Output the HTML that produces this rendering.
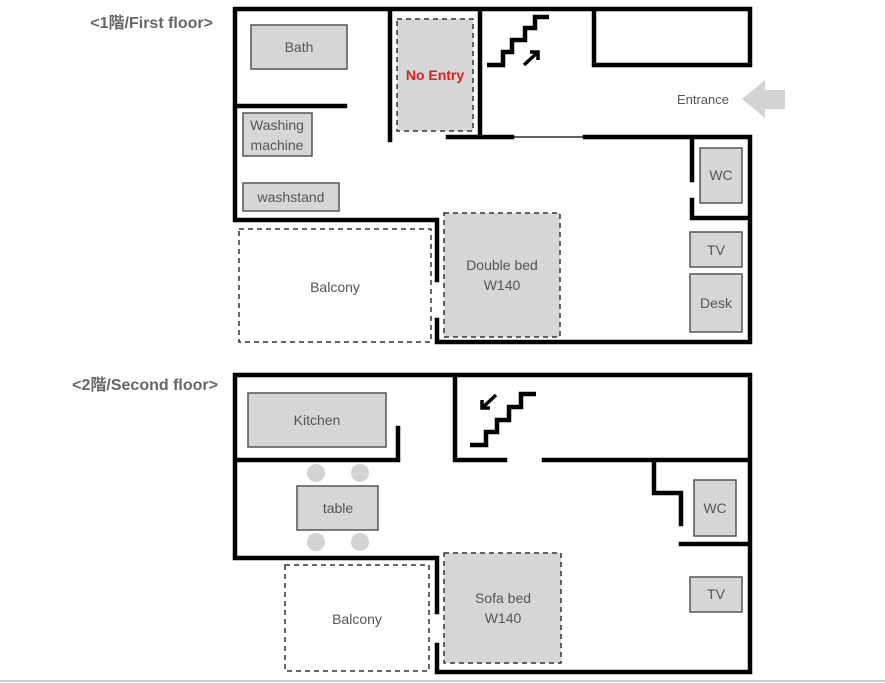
<!DOCTYPE html>
<html><head><meta charset="utf-8"><style>
html,body{margin:0;padding:0;background:#fff;width:885px;height:683px;overflow:hidden}
svg{display:block}
text{font-family:"Liberation Sans","Noto Sans CJK JP",sans-serif;fill:#555;font-size:14px;text-anchor:middle}
.w{stroke:#000;stroke-width:4.5;fill:none;stroke-linecap:square}
.b{fill:#d6d6d6;stroke:#555;stroke-width:1.5}
.d{fill:#d6d6d6;stroke:#333;stroke-width:1.5;stroke-dasharray:5 4}
.dw{fill:#fff;stroke:#333;stroke-width:1.5;stroke-dasharray:5 4}
.s{stroke:#000;stroke-width:4.5;fill:none}
.h{font-size:16px;font-weight:bold;fill:#666;text-anchor:end}
</style></head><body>
<svg width="885" height="683" viewBox="0 0 885 683">
<text class="h" x="213" y="28">&lt;1階/First floor&gt;</text>
<text class="h" x="218" y="390">&lt;2階/Second floor&gt;</text>

<!-- Floor 1 -->
<rect class="b" x="251" y="25" width="96" height="44"/><text x="299" y="52">Bath</text>
<rect class="d" x="397" y="19" width="76" height="112"/><text x="435" y="80" style="fill:#e02020;font-weight:bold">No Entry</text>
<rect class="b" x="243" y="113" width="69" height="43"/><text x="277" y="130">Washing</text><text x="277" y="150">machine</text>
<rect class="b" x="243" y="183" width="96" height="28"/><text x="291" y="202">washstand</text>
<rect class="dw" x="239" y="229" width="192" height="113"/><text x="335" y="292">Balcony</text>
<rect class="d" x="444" y="213" width="116" height="124"/><text x="502" y="270">Double bed</text><text x="502" y="290">W140</text>
<rect class="b" x="700" y="148" width="42" height="55"/><text x="721" y="180">WC</text>
<rect class="b" x="690" y="232" width="52" height="35"/><text x="716" y="255">TV</text>
<rect class="b" x="690" y="274" width="52" height="58"/><text x="716" y="308">Desk</text>
<text x="703" y="104" style="font-size:13px">Entrance</text>
<polygon points="742,99 765,80 765,90 785,90 785,109 765,109 765,118" fill="#d3d3d3"/>

<path class="w" d="M235,9 H749 M235,9 V220 H437 V280 M437,320 V342 H750 V137 M390,9 V140 M480,9 V137 M594,9 V65 H750 V9 M235,106 H345 M448,137 H512 M585,137 H750 M692,137 V180 M692,200 V218 H750"/>
<line x1="512" y1="137" x2="585" y2="137" stroke="#000" stroke-width="1.2"/>
<path class="s" d="M487,65 H503 V52 H512 V40 H525 V28 H535 V17 H549"/>
<path class="s" d="M524,65 L538,52 M530,52 H538 V60" style="stroke-width:3.5"/>

<!-- Floor 2 -->
<rect class="b" x="248" y="393" width="138" height="54"/><text x="317" y="425">Kitchen</text>
<circle cx="316" cy="473" r="9" fill="#d3d3d3"/><circle cx="360" cy="473" r="9" fill="#d3d3d3"/>
<circle cx="316" cy="542" r="9" fill="#d3d3d3"/><circle cx="360" cy="542" r="9" fill="#d3d3d3"/>
<rect class="b" x="297" y="486" width="81" height="44"/><text x="338" y="513">table</text>
<rect class="dw" x="285" y="565" width="144" height="106"/><text x="357" y="624">Balcony</text>
<rect class="d" x="444" y="553" width="117" height="110"/><text x="503" y="603">Sofa bed</text><text x="503" y="623">W140</text>
<rect class="b" x="694" y="480" width="42" height="56"/><text x="715" y="513">WC</text>
<rect class="b" x="690" y="577" width="52" height="35"/><text x="716" y="599">TV</text>

<path class="w" d="M235,375 H750 V672 H437 V645 M437,612 V558 H235 V375 M235,460 H398 V428 M455,375 V460 H505 M544,460 H750 M654,460 V493 H681 V524 M681,544 H750"/>
<path class="s" d="M470,445 H486 V432 H497 V420 H509 V407 H521 V394 H536"/>
<path class="s" d="M496,395 L482,408 M482,400 V408 H490" style="stroke-width:3.5"/>

<line x1="0" y1="681" x2="885" y2="681" stroke="#ccc" stroke-width="2"/>
</svg>
</body></html>
